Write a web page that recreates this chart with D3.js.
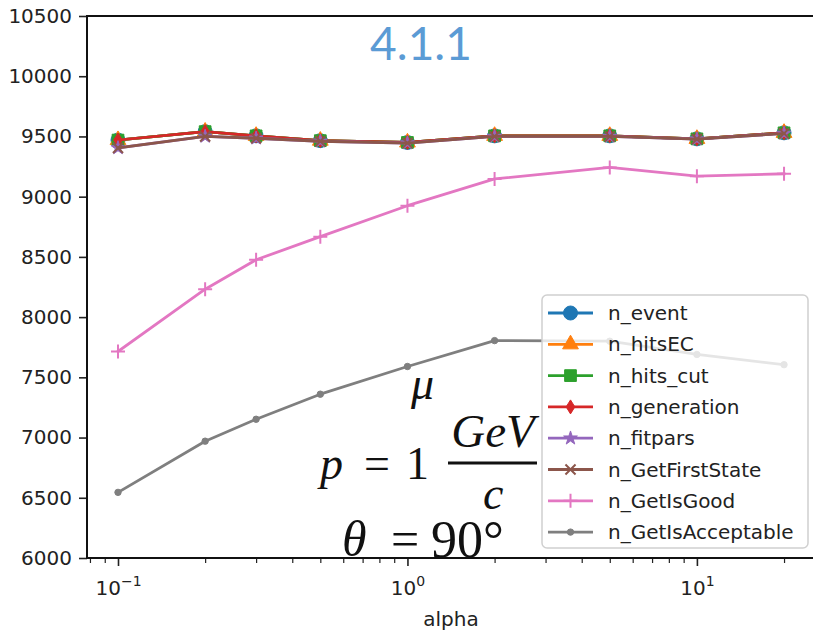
<!DOCTYPE html>
<html>
<head>
<meta charset="utf-8">
<script src="https://cdn.jsdelivr.net/npm/d3@7"></script>
<style>
  html, body { margin: 0; padding: 0; background: #fff; }
  svg { display: block; }
</style>
</head>
<body>
<svg id="chart" width="813" height="631"></svg>
<script>
// alpha values and per-stage counts
const alphas = [0.1, 0.2, 0.3, 0.5, 1, 2, 5, 10, 20];
const nEvent       = [9470, 9540, 9505, 9465, 9450, 9505, 9505, 9480, 9530];
const nHitsEC      = [9470, 9540, 9505, 9465, 9450, 9505, 9505, 9480, 9530];
const nHitsCut     = [9470, 9540, 9505, 9465, 9450, 9505, 9505, 9480, 9530];
const nGeneration  = [9470, 9540, 9505, 9465, 9450, 9505, 9505, 9480, 9530];
const nFitpars     = [9405, 9500, 9485, 9460, 9445, 9500, 9500, 9478, 9525];
const nFirstState  = [9405, 9500, 9485, 9460, 9445, 9500, 9500, 9478, 9525];
const nIsGood      = [7715, 8232, 8476, 8668, 8925, 9147, 9243, 9170, 9190];
const nAcceptable  = [6545, 6970, 7152, 7360, 7590, 7805, 7800, 7690, 7605];

const seriesNames = ["n_event", "n_hitsEC", "n_hits_cut", "n_generation",
  "n_fitpars", "n_GetFirstState", "n_GetIsGood", "n_GetIsAcceptable"];
const seriesValues = [nEvent, nHitsEC, nHitsCut, nGeneration,
  nFitpars, nFirstState, nIsGood, nAcceptable];
const seriesColors = ["#1f77b4", "#ff7f0e", "#2ca02c", "#d62728",
  "#9467bd", "#8c564b", "#e377c2", "#7f7f7f"];
const seriesMarkers = ["o", "^", "s", "d", "*", "x", "+", "."];

const yTicks = [6000, 6500, 7000, 7500, 8000, 8500, 9000, 9500, 10000, 10500];
const xMajor = [0.1, 1, 10];
const xMajorExp = ["\u22121", "0", "1"];
const xMinor = [0.08, 0.09, 0.2, 0.3, 0.4, 0.5, 0.6, 0.7, 0.8, 0.9,
  2, 3, 4, 5, 6, 7, 8, 9, 20];

const svg = d3.select("#chart");
const plot = { left: 87, right: 815, top: 16, bottom: 558 };

const x = d3.scaleLog()
  .domain([Math.pow(10, -1.1071), Math.pow(10, 1.408)])
  .range([plot.left, plot.right]);
const y = d3.scaleLinear()
  .domain([6000, 10500])
  .range([plot.bottom, plot.top]);

// ---- axes ----
const tickFont = "DejaVu Sans, sans-serif";
const yAxis = d3.axisLeft(y).tickValues(yTicks).tickSize(8).tickPadding(7)
  .tickFormat(d3.format("d"));
const gy = svg.append("g").attr("transform", `translate(${plot.left},0)`).call(yAxis);
gy.select(".domain").remove();
gy.selectAll(".tick line").attr("stroke", "#222").attr("stroke-width", 1.6);
gy.selectAll(".tick text").attr("font-family", tickFont).attr("font-size", 20)
  .attr("fill", "#222");

const xMinorAxis = d3.axisBottom(x).tickValues(xMinor).tickSize(5).tickFormat("");
const gxm = svg.append("g").attr("transform", `translate(0,${plot.bottom})`).call(xMinorAxis);
gxm.select(".domain").remove();
gxm.selectAll(".tick line").attr("stroke", "#222").attr("stroke-width", 1.2);

const xMajorAxis = d3.axisBottom(x).tickValues(xMajor).tickSize(8).tickFormat("");
const gx = svg.append("g").attr("transform", `translate(0,${plot.bottom})`).call(xMajorAxis);
gx.select(".domain").remove();
gx.selectAll(".tick line").attr("stroke", "#222").attr("stroke-width", 1.6);
gx.selectAll(".tick").each(function(d, i) {
  const t = d3.select(this).append("text")
    .attr("y", 37).attr("text-anchor", "middle")
    .attr("font-family", tickFont).attr("font-size", 20).attr("fill", "#222");
  t.append("tspan").text("10");
  t.append("tspan").attr("dy", -9).attr("font-size", 14).text(xMajorExp[i]);
});

svg.append("text")
  .attr("x", (plot.left + plot.right) / 2).attr("y", 626)
  .attr("text-anchor", "middle")
  .attr("font-family", tickFont).attr("font-size", 20).attr("fill", "#222")
  .text("alpha");

// ---- markers ----
function markerPath(kind, s) {
  const r = s / 2;
  switch (kind) {
    case "o": return d3.symbol(d3.symbolCircle, Math.PI * r * r)();
    case "^": return d3.symbol(d3.symbolTriangle, s * s * 0.55)();
    case "s": return d3.symbol(d3.symbolSquare, s * s * 0.7)();
    case "d": return `M0,${-r}L${r * 0.62},0L0,${r}L${-r * 0.62},0Z`;
    case "*": return d3.symbol(d3.symbolStar, s * s * 0.3)();
    case "x": { const a = r * 0.72; return `M${-a},${-a}L${a},${a}M${-a},${a}L${a},${-a}`; }
    case "+": return `M${-r},0L${r},0M0,${-r}L0,${r}`;
    case ".": return d3.symbol(d3.symbolCircle, Math.PI * 3.2 * 3.2)();
  }
}
function drawMarker(g, kind, color, cx, cy) {
  const stroked = kind === "x" || kind === "+";
  g.append("path")
    .attr("transform", `translate(${cx},${cy})`)
    .attr("d", markerPath(kind, 14))
    .attr("fill", stroked ? "none" : color)
    .attr("stroke", color)
    .attr("stroke-width", stroked ? 2 : 1);
}

// ---- series ----
const line = d3.line().x(d => x(d[0])).y(d => y(d[1]));
const plotG = svg.append("g");
seriesValues.forEach((vals, i) => {
  const pts = alphas.map((a, j) => [a, vals[j]]);
  const g = plotG.append("g");
  g.append("path").attr("d", line(pts)).attr("fill", "none")
    .attr("stroke", seriesColors[i]).attr("stroke-width", 2.8)
    .attr("stroke-linejoin", "round").attr("stroke-linecap", "square");
  pts.forEach(p => drawMarker(g, seriesMarkers[i], seriesColors[i], x(p[0]), y(p[1])));
});

// spines (left, top, bottom)
svg.append("path")
  .attr("d", `M${plot.right},${plot.top}L${plot.left},${plot.top}L${plot.left},${plot.bottom}L${plot.right},${plot.bottom}`)
  .attr("fill", "none").attr("stroke", "#111").attr("stroke-width", 2);

// ---- legend ----
const leg = svg.append("g");
const legBox = { x: 542, y: 295, w: 266, h: 253 };
leg.append("rect")
  .attr("x", legBox.x).attr("y", legBox.y).attr("width", legBox.w).attr("height", legBox.h)
  .attr("rx", 5).attr("fill", "rgba(255,255,255,0.8)")
  .attr("stroke", "#d0d0d0").attr("stroke-width", 1.5);
seriesNames.forEach((name, i) => {
  const cy = 313 + i * 31.3;
  leg.append("line").attr("x1", 548).attr("x2", 593).attr("y1", cy).attr("y2", cy)
    .attr("stroke", seriesColors[i]).attr("stroke-width", 2.8);
  drawMarker(leg, seriesMarkers[i], seriesColors[i], 570.5, cy);
  leg.append("text").attr("x", 608).attr("y", cy + 7)
    .attr("font-family", tickFont).attr("font-size", 20).attr("fill", "#222")
    .text(name);
});

// ---- title and kinematics annotation ----
svg.append("text")
  .attr("x", 421).attr("y", 60).attr("text-anchor", "middle")
  .attr("font-family", "Lato, sans-serif").attr("font-size", 46)
  .attr("fill", "#5b9bd5").text("4.1.1");

const mathFont = "Liberation Serif, serif";
const math = svg.append("g").attr("font-family", mathFont).attr("fill", "#111");
math.append("text").attr("x", 411).attr("y", 399).attr("font-style", "italic")
  .attr("font-size", 46).text("\u03bc");
math.append("text").attr("x", 320).attr("y", 479).attr("font-style", "italic")
  .attr("font-size", 46).text("p");
math.append("text").attr("x", 364).attr("y", 479)
  .attr("font-size", 46).text("=");
math.append("text").attr("x", 406).attr("y", 479)
  .attr("font-size", 46).text("1");
math.append("text").attr("x", 493).attr("y", 447).attr("text-anchor", "middle")
  .attr("font-style", "italic").attr("font-size", 47).text("GeV");
math.append("line").attr("x1", 448).attr("x2", 537).attr("y1", 463).attr("y2", 463)
  .attr("stroke", "#111").attr("stroke-width", 3);
math.append("text").attr("x", 483).attr("y", 509).attr("font-style", "italic")
  .attr("font-size", 46).text("c");
math.append("text").attr("x", 342).attr("y", 556).attr("font-style", "italic")
  .attr("font-size", 50).text("\u03b8");
math.append("text").attr("x", 391).attr("y", 556)
  .attr("font-size", 50).text("=");
math.append("text").attr("x", 431).attr("y", 557)
  .attr("font-size", 52).text("90\u00b0");
</script>
</body>
</html>
